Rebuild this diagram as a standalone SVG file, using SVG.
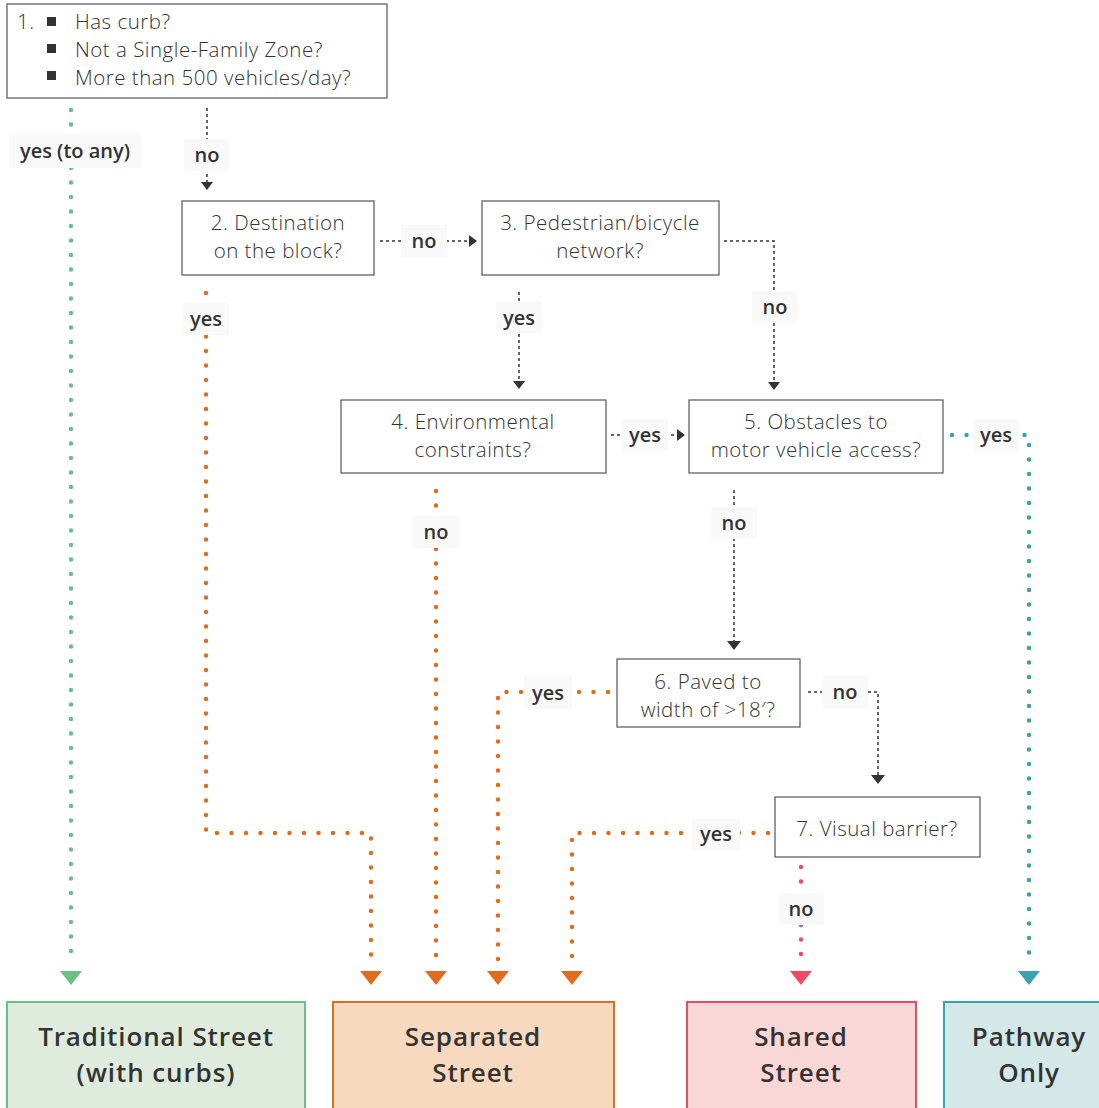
<svg xmlns="http://www.w3.org/2000/svg" width="1099" height="1108" viewBox="0 0 1099 1108">
<style>
.box{fill:#fff;stroke:#555;stroke-width:1.2}
.bt{font-family:"Open Sans","Liberation Sans",sans-serif;font-weight:300;font-size:20.5px;letter-spacing:0.5px;fill:#333;text-anchor:middle}
.bt1{font-family:"Open Sans","Liberation Sans",sans-serif;font-weight:300;font-size:20.5px;letter-spacing:0.5px;fill:#333}
.lbg{fill:#f9f9f9}
.lt{font-family:"Open Sans","Liberation Sans",sans-serif;font-weight:600;font-size:20px;fill:#333;text-anchor:middle}
.ft{font-family:"Open Sans","Liberation Sans",sans-serif;font-weight:600;font-size:26px;letter-spacing:0.9px;fill:#333;text-anchor:middle}
.dk{fill:none;stroke:#333;stroke-width:1.5;stroke-dasharray:3 3}
.dot{fill:none;stroke-width:4.5;stroke-linecap:round;stroke-dasharray:0 14.5}
.g{stroke:#6bbf86}.o{stroke:#e06c1d}.r{stroke:#f04a62}.t{stroke:#38a3ad}
.ah{fill:#333}
</style>
<g id="connectors">
<path class="dot g" d="M71,110 V962"/>
<path class="dk" d="M207,108 V182"/>
<path class="dk" d="M380,241 H469"/>
<path class="dk" d="M724,241 H774 V382"/>
<path class="dk" d="M519,292 V381"/>
<path class="dk" d="M611,435 H677"/>
<path class="dot t" d="M952,435 H1029 V962"/>
<path class="dk" d="M734,490 V641"/>
<path class="dot o" d="M608,692 H498 V962"/>
<path class="dk" d="M808,692 H878 V775"/>
<path class="dot o" d="M768,833 H572 V962"/>
<path class="dot r" d="M801,867 V962"/>
<path class="dot o" d="M206,293 V833 H371 V962"/>
<path class="dot o" d="M436,491 V962"/>
<polygon class="ah" points="201,182 213,182 207,190"/>
<polygon class="ah" points="469,235 477,241 469,247"/>
<polygon class="ah" points="768,382 780,382 774,390"/>
<polygon class="ah" points="513,381 525,381 519,389"/>
<polygon class="ah" points="677,429 685,435 677,441"/>
<polygon class="ah" points="727,641 741,641 734,650"/>
<polygon class="ah" points="871,775 885,775 878,784"/>
<polygon fill="#6bbf86" points="60,971 82,971 71,985"/>
<polygon fill="#e06c1d" points="360,971 382,971 371,985"/>
<polygon fill="#e06c1d" points="425,971 447,971 436,985"/>
<polygon fill="#e06c1d" points="487,971 509,971 498,985"/>
<polygon fill="#e06c1d" points="561,971 583,971 572,985"/>
<polygon fill="#f04a62" points="790,971 812,971 801,985"/>
<polygon fill="#38a3ad" points="1018,971 1040,971 1029,985"/>
<rect class="lbg" x="9" y="133" width="133" height="35"/><text class="lt" x="75" y="158">yes (to any)</text>
<rect class="lbg" x="184" y="139" width="46" height="32"/><text class="lt" x="207" y="162">no</text>
<rect class="lbg" x="401" y="225" width="46" height="32"/><text class="lt" x="424" y="248">no</text>
<rect class="lbg" x="752" y="291" width="46" height="32"/><text class="lt" x="775" y="314">no</text>
<rect class="lbg" x="496" y="302" width="46" height="32"/><text class="lt" x="519" y="325">yes</text>
<rect class="lbg" x="183" y="303" width="46" height="32"/><text class="lt" x="206" y="326">yes</text>
<rect class="lbg" x="622" y="419" width="46" height="32"/><text class="lt" x="645" y="442">yes</text>
<rect class="lbg" x="973" y="419" width="46" height="32"/><text class="lt" x="996" y="442">yes</text>
<rect class="lbg" x="711" y="507" width="46" height="32"/><text class="lt" x="734" y="530">no</text>
<rect class="lbg" x="413" y="516" width="46" height="32"/><text class="lt" x="436" y="539">no</text>
<rect class="lbg" x="524" y="677" width="48" height="32"/><text class="lt" x="548" y="700">yes</text>
<rect class="lbg" x="822" y="676" width="46" height="32"/><text class="lt" x="845" y="699">no</text>
<rect class="lbg" x="692" y="818" width="48" height="32"/><text class="lt" x="716" y="841">yes</text>
<rect class="lbg" x="778" y="893" width="46" height="32"/><text class="lt" x="801" y="916">no</text>
</g>
<g id="n1">
<rect class="box" x="7" y="4" width="380" height="94"/>
<rect x="47" y="17" width="9" height="9" fill="#333"/>
<rect x="47" y="44" width="9" height="9" fill="#333"/>
<rect x="47" y="71" width="9" height="9" fill="#333"/>
<text class="bt1" x="17" y="29">1.</text>
<text class="bt1" x="75" y="29">Has curb?</text>
<text class="bt1" x="75" y="57">Not a Single-Family Zone?</text>
<text class="bt1" x="75" y="85">More than 500 vehicles/day?</text>
</g>
<g id="n2">
<rect class="box" x="182" y="201" width="192" height="74"/>
<text class="bt" x="278" y="230">2. Destination</text>
<text class="bt" x="278" y="258">on the block?</text>
</g>
<g id="n3">
<rect class="box" x="482" y="201" width="237" height="74"/>
<text class="bt" x="600" y="230">3. Pedestrian/bicycle</text>
<text class="bt" x="600" y="258">network?</text>
</g>
<g id="n4">
<rect class="box" x="341" y="400" width="265" height="73"/>
<text class="bt" x="473" y="429">4. Environmental</text>
<text class="bt" x="473" y="457">constraints?</text>
</g>
<g id="n5">
<rect class="box" x="689" y="400" width="254" height="73"/>
<text class="bt" x="816" y="429">5. Obstacles to</text>
<text class="bt" x="816" y="457">motor vehicle access?</text>
</g>
<g id="n6">
<rect class="box" x="617" y="659" width="183" height="68"/>
<text class="bt" x="708" y="689">6. Paved to</text>
<text class="bt" x="708" y="717">width of &gt;18′?</text>
</g>
<g id="n7">
<rect class="box" x="775" y="797" width="205" height="60"/>
<text class="bt" x="877" y="836">7. Visual barrier?</text>
</g>
<g id="traditional">
<rect x="7" y="1002" width="298" height="110" fill="#dfecdd" stroke="#6bbf86" stroke-width="2"/>
<text class="ft" x="156" y="1046">Traditional Street</text>
<text class="ft" x="156" y="1082">(with curbs)</text>
</g>
<g id="separated">
<rect x="333" y="1002" width="281" height="110" fill="#f7d9bf" stroke="#e06c1d" stroke-width="2"/>
<text class="ft" x="473" y="1046">Separated</text>
<text class="ft" x="473" y="1082">Street</text>
</g>
<g id="shared">
<rect x="687" y="1002" width="229" height="110" fill="#fad7d7" stroke="#f04a62" stroke-width="2"/>
<text class="ft" x="801" y="1046">Shared</text>
<text class="ft" x="801" y="1082">Street</text>
</g>
<g id="pathway">
<rect x="944" y="1002" width="160" height="110" fill="#d4e8e8" stroke="#38a3ad" stroke-width="2"/>
<text class="ft" x="1029" y="1046">Pathway</text>
<text class="ft" x="1029" y="1082">Only</text>
</g>
</svg>
